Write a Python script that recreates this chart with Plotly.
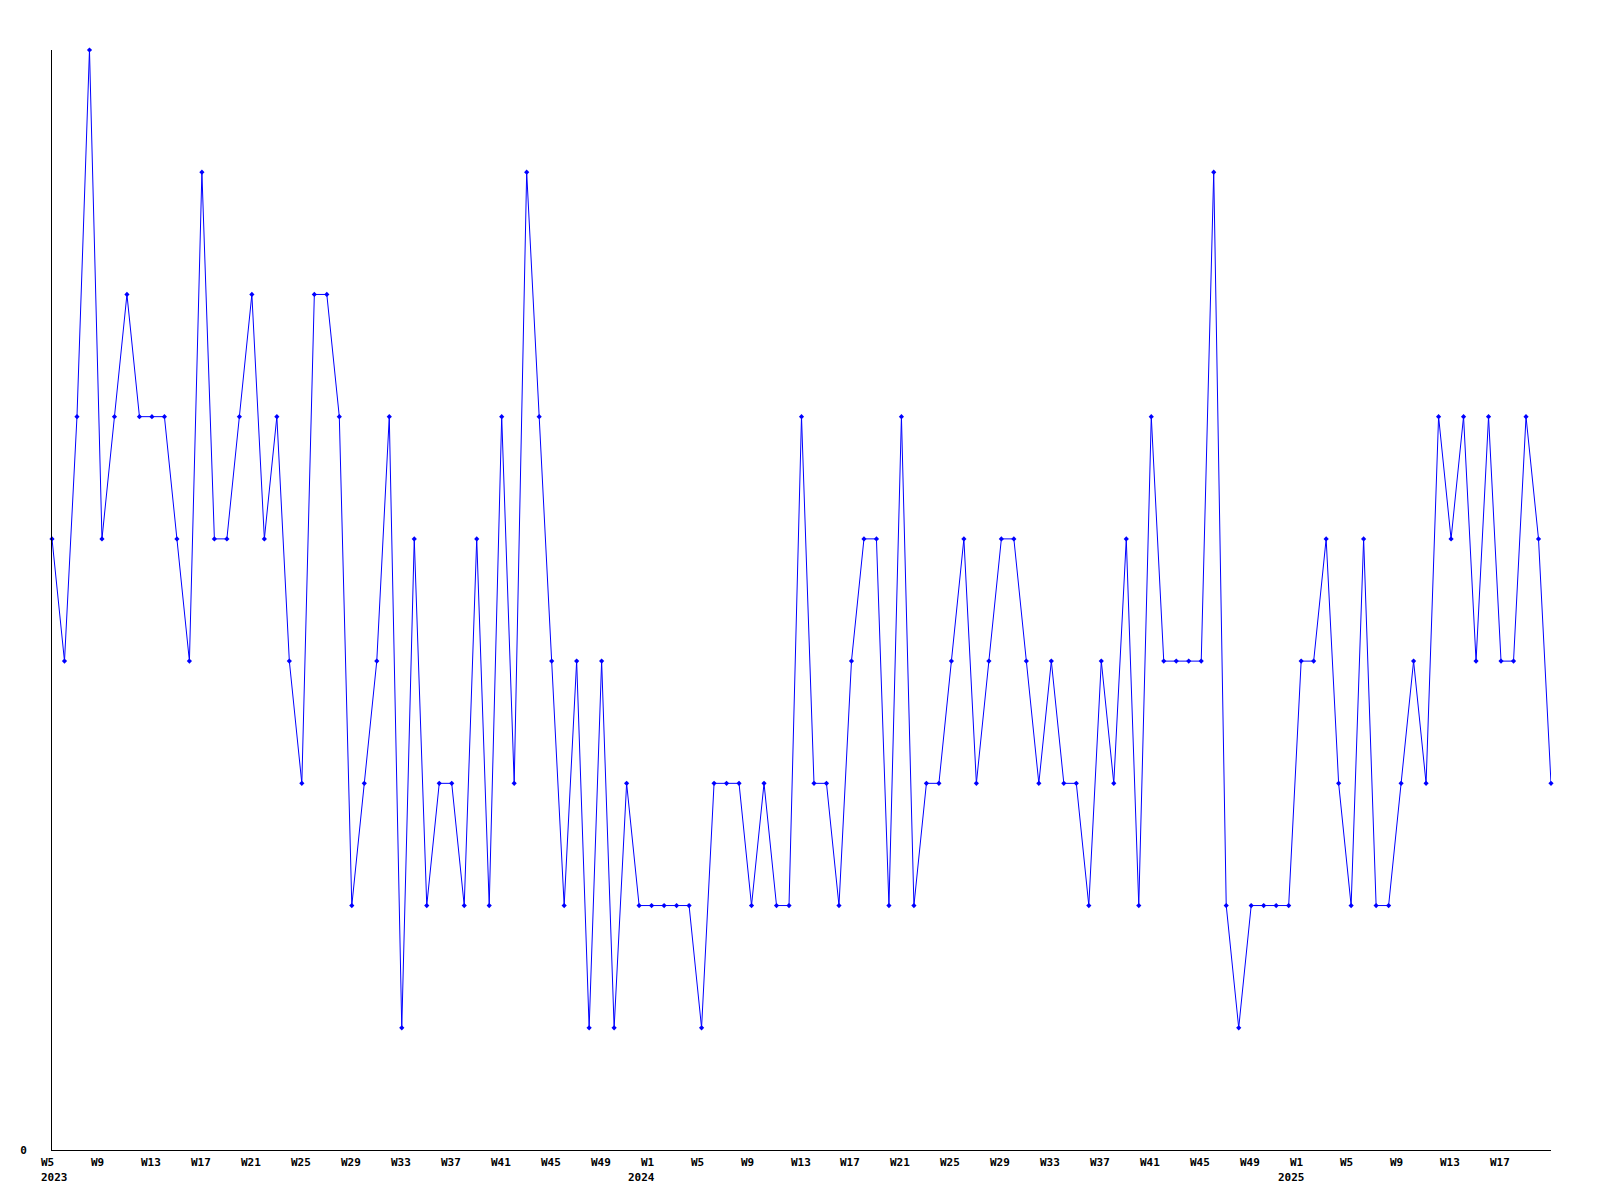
import plotly.graph_objects as go

# Weekly values
years = [2023, 2024, 2025]
first_week = {2023: 5, 2024: 1, 2025: 1}
last_week = {2023: 52, 2024: 52, 2025: 21}

values_2023 = [5, 4, 6, 9, 5, 6, 7, 6, 6, 6,
               5, 4, 8, 5, 5, 6, 7, 5, 6, 4,
               3, 7, 7, 6, 2, 3, 4, 6, 1, 5,
               2, 3, 3, 2, 5, 2, 6, 3, 8, 6,
               4, 2, 4, 1, 4, 1, 3, 2]
values_2024 = [2, 2, 2, 2, 1, 3, 3, 3, 2, 3,
               2, 2, 6, 3, 3, 2, 4, 5, 5, 2,
               6, 2, 3, 3, 4, 5, 3, 4, 5, 5,
               4, 3, 4, 3, 3, 2, 4, 3, 5, 2,
               6, 4, 4, 4, 4, 8, 2, 1, 2, 2,
               2, 2]
values_2025 = [4, 4, 5, 3, 2, 5, 2, 2, 3, 4,
               3, 6, 5, 6, 4, 6, 4, 4, 6, 5,
               3]

year_values = {2023: values_2023, 2024: values_2024, 2025: values_2025}

categories = []
values = []
for y in years:
    weeks = range(first_week[y], last_week[y] + 1)
    vals = year_values[y]
    for w, v in zip(weeks, vals):
        categories.append(f"{y}-W{w:02d}")
        values.append(v)

# tick labels every 4 weeks (W1, W5, W9, ...), year under first tick of each year
# (the final category gets no label, as in the reference)
tick_cats = []
tick_texts = []
year_ticks = []
for y in years:
    first = True
    for w in range(first_week[y], last_week[y] + 1):
        cat = f"{y}-W{w:02d}"
        if (w - 1) % 4 == 0 and cat != categories[-1]:
            tick_cats.append(cat)
            tick_texts.append(f"W{w}")
            if first:
                year_ticks.append((cat, str(y)))
                first = False

BLUE = "#0000ff"
FONT = dict(family="DejaVu Sans Mono", size=11, color="black", weight="bold")

fig = go.Figure()
fig.add_trace(go.Scatter(
    x=categories, y=values, mode="lines+markers",
    line=dict(color=BLUE, width=1),
    marker=dict(color=BLUE, size=4, symbol="diamond"),
    showlegend=False, hoverinfo="x+y", cliponaxis=False,
))

annotations = []
for c, t in zip(tick_cats, tick_texts):
    annotations.append(dict(x=c, y=0, xref="x", yref="paper", text=t,
                            showarrow=False, xanchor="left", yanchor="top",
                            xshift=-13, yshift=-4, font=FONT))
for i, (c, t) in enumerate(year_ticks):
    if i == 0:
        annotations.append(dict(x=c, y=0, xref="x", yref="paper", text=t,
                                showarrow=False, xanchor="left", yanchor="top",
                                xshift=-13, yshift=-19, font=FONT))
    else:
        annotations.append(dict(x=c, y=0, xref="x", yref="paper", text=t,
                                showarrow=False, xanchor="center", yanchor="top",
                                xshift=-10, yshift=-19, font=FONT))

fig.update_layout(
    width=1600, height=1200,
    margin=dict(l=42, r=57, t=42, b=58),
    paper_bgcolor="white", plot_bgcolor="white",
    annotations=annotations,
    xaxis=dict(type="category", categoryorder="array", categoryarray=categories,
               range=[0, len(categories) - 1], showgrid=False, zeroline=False,
               showline=True, linecolor="black", linewidth=1,
               showticklabels=False, ticks=""),
    yaxis=dict(range=[0, 9], showgrid=False, zeroline=False,
               showline=True, linecolor="black", linewidth=1,
               tickvals=[0], ticktext=["0"], ticks="", tickfont=FONT,
               ticklabelstandoff=22),
)

fig.write_html("out.html")
